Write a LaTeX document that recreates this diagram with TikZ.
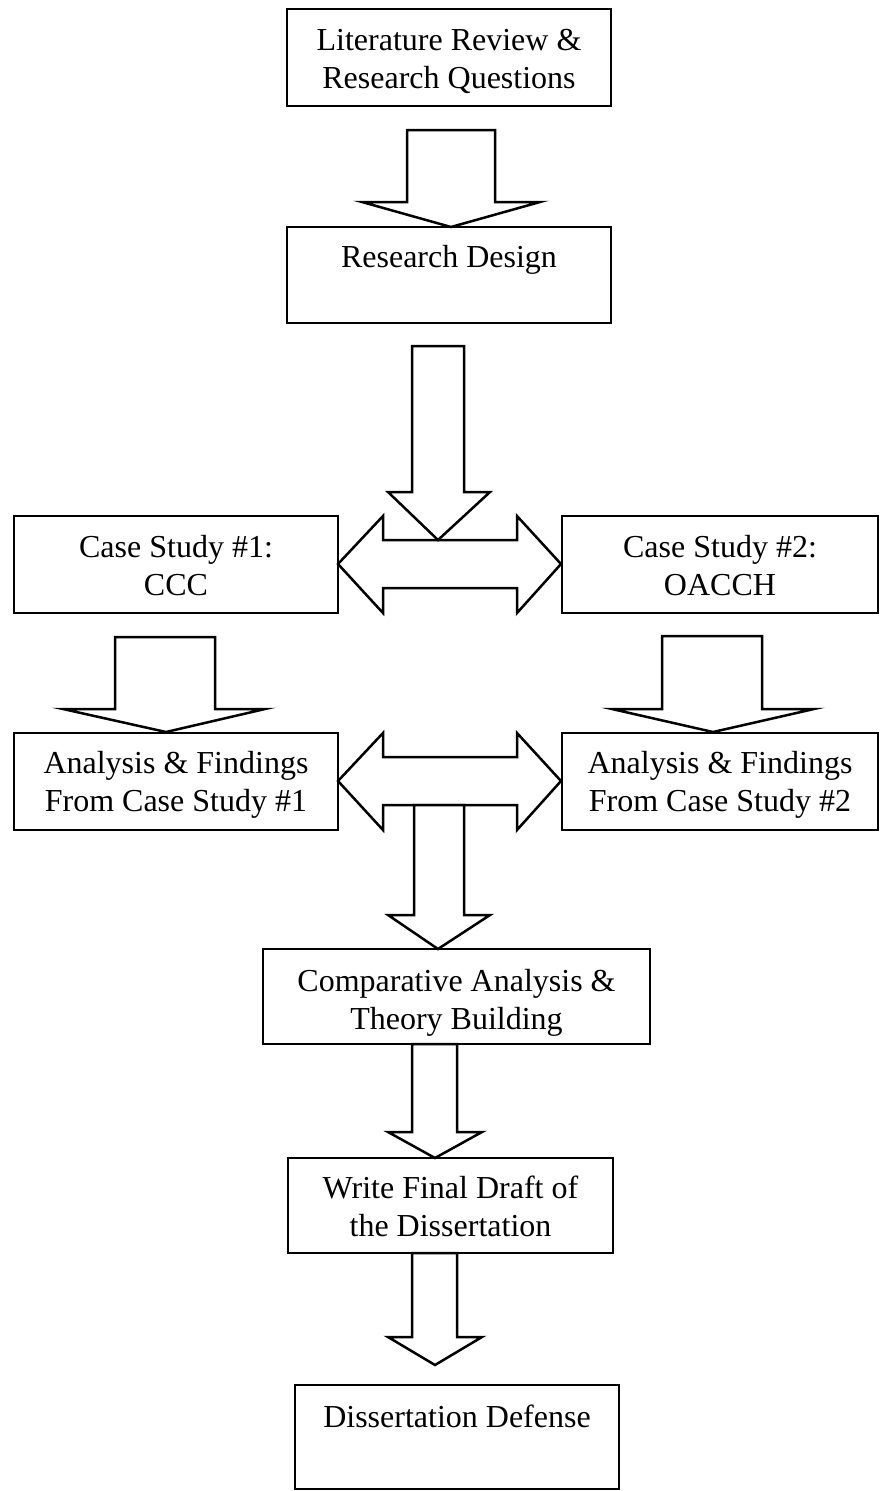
\documentclass[tikz,border=0pt]{standalone}
\usepackage{fontspec}
\setmainfont{Liberation Serif}
\newcommand\blkdown[8]{% a b top headbase w1 w2 tipx tipy
  \draw[blockarrow] (#1,#3) -- (#1,#4) -- (#5,#4) -- (#7,#8) -- (#6,#4) -- (#2,#4) -- (#2,#3) -- cycle;}
\begin{document}
\begin{tikzpicture}[x=1pt,y=-1pt,
  box/.style={draw, line width=2.5pt, inner sep=0pt},
  txt/.style={align=center, inner sep=0pt, font=\fontsize{32}{38}\selectfont},
  blockarrow/.style={draw, line width=2.5pt, fill=white, line join=miter}]
\useasboundingbox (0,0) rectangle (880,1491);
\node[box, minimum width=324pt, minimum height=97pt] (lit) at (449,57.5) {};
\node[box, minimum width=324pt, minimum height=96pt] (rd) at (449,275) {};
\node[box, minimum width=324pt, minimum height=97pt] (cs1) at (176,564.5) {};
\node[box, minimum width=316pt, minimum height=97pt] (cs2) at (720,564.5) {};
\node[box, minimum width=324pt, minimum height=97pt] (af1) at (176,781.5) {};
\node[box, minimum width=316pt, minimum height=97pt] (af2) at (720,781.5) {};
\node[box, minimum width=387pt, minimum height=95pt] (comp) at (456.5,996.5) {};
\node[box, minimum width=325pt, minimum height=95pt] (wfd) at (450.5,1205.5) {};
\node[box, minimum width=324pt, minimum height=104pt] (dd) at (457,1437) {};
\node[txt] (tlit) at ([yshift=-4pt]lit.center) {Literature Review \&\\Research Questions};
\node[txt] (trd) at ([yshift=-6pt]rd.center) {Research Design\\\strut};
\node[txt] (tcs1) at ([yshift=-1pt]cs1.center) {Case Study \#1:\\CCC};
\node[txt] (tcs2) at ([yshift=-1pt]cs2.center) {Case Study \#2:\\OACCH};
\node[txt] (taf1) at ([yshift=-3pt]af1.center) {Analysis \& Findings\\From Case Study \#1};
\node[txt] (taf2) at ([yshift=-3pt]af2.center) {Analysis \& Findings\\From Case Study \#2};
\node[txt] (tcomp) at ([yshift=-6pt]comp.center) {Comparative Analysis \&\\Theory Building};
\node[txt] (twfd) at ([yshift=-1pt]wfd.center) {Write Final Draft of\\the Dissertation};
\node[txt] (tdd) at ([yshift=-4pt]dd.center) {Dissertation Defense\\\strut};
% block arrows
\blkdown{407}{495}{130}{202}{362}{540}{451}{227}
% double arrow 1
\draw[blockarrow] (338,564) -- (383,516) -- (383,540) -- (517,540) -- (517,516) -- (561,564) -- (517,613) -- (517,588) -- (383,588) -- (383,613) -- cycle;
\blkdown{412}{464}{346}{492}{388}{490}{438}{540}
\blkdown{115}{215}{637}{709}{63}{265}{166}{732}
\blkdown{662}{762}{636}{709}{612}{814}{713}{732}
% double arrow 2
\draw[blockarrow] (338,781) -- (383,733) -- (383,757) -- (517,757) -- (517,733) -- (561,781) -- (517,830) -- (517,805) -- (383,805) -- (383,830) -- cycle;
\blkdown{414}{464}{805}{915}{388}{490}{438}{949}
\blkdown{412}{457}{1044}{1132}{388}{482}{435}{1158}
\blkdown{412}{457}{1253}{1337}{388}{482}{435}{1365}
\end{tikzpicture}
\end{document}
